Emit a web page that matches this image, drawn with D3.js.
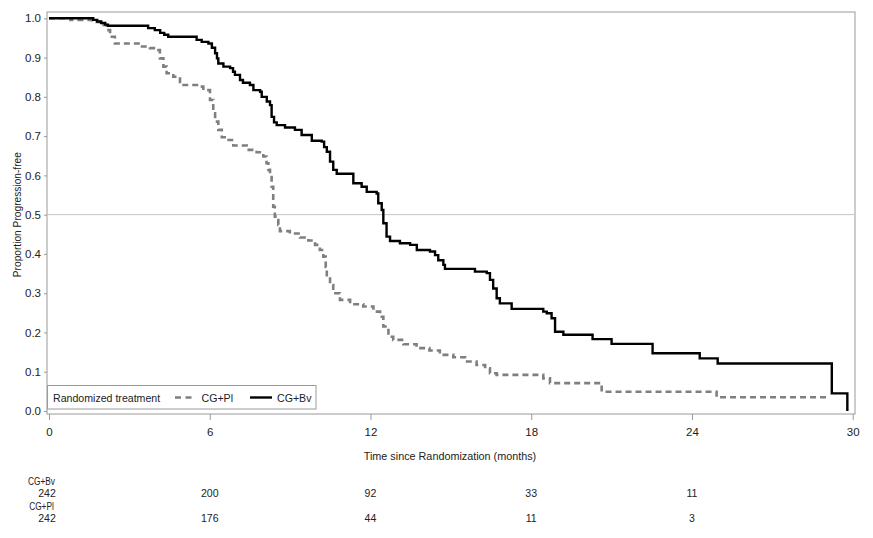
<!DOCTYPE html>
<html>
<head>
<meta charset="utf-8">
<script src="https://cdn.jsdelivr.net/npm/d3@7"></script>
<style>
  html, body { margin: 0; padding: 0; background: #fff; }
  svg { display: block; font-family: "Liberation Sans", Arial, sans-serif; }
</style>
</head>
<body>
<svg id="chart" width="873" height="538"></svg>
<script>
// ---- Data ----
const bvTime = [0, 1.65, 1.8, 1.95, 2.1, 2.2, 3.7, 3.95, 4.15, 4.3, 4.45, 5.51, 5.7, 5.95, 6.08, 6.2, 6.27, 6.32, 6.51, 6.76, 6.87, 6.94, 7.13, 7.24, 7.5, 7.63, 7.88, 7.94, 8.13, 8.25, 8.31, 8.4, 8.5, 8.81, 9.18, 9.43, 9.81, 10.18, 10.27, 10.37, 10.49, 10.61, 10.74, 11.36, 11.67, 11.86, 12.23, 12.29, 12.42, 12.48, 12.6, 12.73, 13.1, 13.48, 13.73, 14.22, 14.41, 14.53, 14.72, 14.78, 15.9, 16.34, 16.46, 16.58, 16.71, 16.83, 17.27, 18.45, 18.58, 18.76, 18.89, 19.2, 20.29, 21.0, 22.53, 24.29, 24.96, 29.22, 29.8];
const bvSurv = [1.0, 0.996, 0.992, 0.988, 0.984, 0.981, 0.975, 0.970, 0.963, 0.958, 0.953, 0.945, 0.940, 0.936, 0.925, 0.911, 0.898, 0.885, 0.877, 0.873, 0.864, 0.856, 0.843, 0.836, 0.830, 0.817, 0.813, 0.800, 0.788, 0.779, 0.749, 0.735, 0.728, 0.722, 0.716, 0.703, 0.688, 0.686, 0.672, 0.660, 0.635, 0.614, 0.604, 0.580, 0.571, 0.558, 0.554, 0.529, 0.512, 0.478, 0.444, 0.433, 0.427, 0.423, 0.410, 0.406, 0.397, 0.384, 0.372, 0.362, 0.355, 0.351, 0.334, 0.312, 0.287, 0.274, 0.260, 0.253, 0.249, 0.236, 0.202, 0.194, 0.183, 0.171, 0.147, 0.134, 0.121, 0.045, 0.0];

const plTime = [0, 0.8, 1.6, 1.9, 2.15, 2.28, 2.46, 3.4, 3.77, 4.02, 4.14, 4.27, 4.39, 4.64, 4.89, 5.64, 5.76, 6.01, 6.13, 6.2, 6.32, 6.45, 6.63, 6.88, 7.38, 7.75, 8.0, 8.12, 8.19, 8.25, 8.31, 8.37, 8.43, 8.5, 8.56, 8.62, 8.99, 9.37, 9.68, 9.93, 10.11, 10.24, 10.33, 10.37, 10.49, 10.61, 10.86, 11.24, 11.73, 12.11, 12.36, 12.48, 12.67, 12.85, 13.23, 13.72, 14.2, 14.59, 15.09, 15.53, 15.96, 16.28, 16.46, 16.71, 18.45, 18.7, 20.63, 24.92, 29.09];
const plSurv = [1.0, 0.996, 0.991, 0.983, 0.970, 0.953, 0.936, 0.928, 0.924, 0.919, 0.898, 0.877, 0.860, 0.851, 0.830, 0.826, 0.817, 0.792, 0.758, 0.737, 0.716, 0.697, 0.690, 0.676, 0.665, 0.659, 0.648, 0.631, 0.614, 0.605, 0.571, 0.520, 0.495, 0.486, 0.474, 0.458, 0.452, 0.442, 0.434, 0.423, 0.410, 0.393, 0.367, 0.342, 0.321, 0.300, 0.283, 0.272, 0.266, 0.253, 0.240, 0.215, 0.189, 0.181, 0.170, 0.160, 0.154, 0.143, 0.137, 0.126, 0.117, 0.109, 0.096, 0.092, 0.083, 0.071, 0.049, 0.035, 0.035];

const xTicks = [0, 6, 12, 18, 24, 30];
const yTicks = [0.0, 0.1, 0.2, 0.3, 0.4, 0.5, 0.6, 0.7, 0.8, 0.9, 1.0];
const riskTimes = [0, 6, 12, 18, 24];
const riskBv = [242, 200, 92, 33, 11];
const riskPl = [242, 176, 44, 11, 3];
const seriesNames = ["CG+Pl", "CG+Bv"];

// ---- Layout ----
const svg = d3.select("#chart");
const frame = { left: 47, right: 855, top: 12, bottom: 414 };
const x = d3.scaleLinear().domain([0, 30]).range([49, 852.7]);
const y = d3.scaleLinear().domain([0, 1]).range([411, 18.3]);

// frame
svg.append("rect")
  .attr("x", frame.left).attr("y", frame.top)
  .attr("width", frame.right - frame.left).attr("height", frame.bottom - frame.top)
  .attr("fill", "none").attr("stroke", "#9a9a9a").attr("stroke-width", 1);

// reference line at 0.5
svg.append("line")
  .attr("x1", frame.left).attr("x2", frame.right)
  .attr("y1", y(0.5)).attr("y2", y(0.5))
  .attr("stroke", "#c4c4c4").attr("stroke-width", 1);

// y axis
const yAxis = d3.axisLeft(y).tickValues(yTicks).tickFormat(d3.format(".1f")).tickSize(3).tickPadding(3);
const gy = svg.append("g").attr("transform", `translate(${frame.left},0)`).call(yAxis);
gy.select(".domain").remove();
gy.selectAll(".tick line").attr("stroke", "#9a9a9a");
gy.selectAll(".tick text").attr("fill", "#222").style("font-size", "11.5px").style("font-family", "Liberation Sans, Arial, sans-serif");

// x axis
const xAxis = d3.axisBottom(x).tickValues(xTicks).tickFormat(d3.format("d")).tickSize(6).tickPadding(8);
const gx = svg.append("g").attr("transform", `translate(0,${frame.bottom})`).call(xAxis);
gx.select(".domain").remove();
gx.selectAll(".tick line").attr("stroke", "#9a9a9a");
gx.selectAll(".tick text").attr("fill", "#222").style("font-size", "11.5px").style("font-family", "Liberation Sans, Arial, sans-serif");

// axis titles
svg.append("text")
  .attr("transform", `translate(21,${y(0.5)}) rotate(-90)`)
  .attr("text-anchor", "middle")
  .attr("fill", "#222").style("font-size", "10.2px")
  .text("Proportion Progression-free");
svg.append("text")
  .attr("x", 450).attr("y", 460)
  .attr("text-anchor", "middle")
  .attr("fill", "#222").style("font-size", "10.8px")
  .text("Time since Randomization (months)");

// curves
const line = d3.line().x(d => x(d[0])).y(d => y(d[1])).curve(d3.curveStepAfter);
const plData = plTime.map((t, i) => [t, plSurv[i]]);
const bvData = bvTime.map((t, i) => [t, bvSurv[i]]);

svg.append("path").datum(plData)
  .attr("d", line).attr("fill", "none")
  .attr("stroke", "#7f7f7f").attr("stroke-width", 2.6)
  .attr("stroke-dasharray", "6,4");
svg.append("path").datum(bvData)
  .attr("d", line).attr("fill", "none")
  .attr("stroke", "#000").attr("stroke-width", 2.4);

// legend
const lg = svg.append("g").style("font-size", "10.6px");
lg.append("rect")
  .attr("x", 47.5).attr("y", 385.5).attr("width", 268.5).attr("height", 23.5)
  .attr("fill", "#fff").attr("stroke", "#9a9a9a").attr("stroke-width", 1);
lg.append("text").attr("x", 53).attr("y", 401.5).attr("fill", "#222").text("Randomized treatment");
lg.append("line").attr("x1", 175).attr("x2", 192).attr("y1", 397.5).attr("y2", 397.5)
  .attr("stroke", "#7f7f7f").attr("stroke-width", 2.6).attr("stroke-dasharray", "6,4.5");
lg.append("text").attr("x", 201.5).attr("y", 401.5).attr("fill", "#222").text(seriesNames[0]);
lg.append("line").attr("x1", 250).attr("x2", 272).attr("y1", 397.5).attr("y2", 397.5)
  .attr("stroke", "#000").attr("stroke-width", 2.4);
lg.append("text").attr("x", 277).attr("y", 401.5).attr("fill", "#222").text(seriesNames[1]);

// risk table
const rt = svg.append("g").style("font-size", "11.5px").attr("fill", "#222");
function riskText(px, py, s, sx) {
  rt.append("g").attr("transform", `translate(${px},${py}) scale(${sx},1)`)
    .append("text").attr("text-anchor", "middle").text(s);
}
riskText(41.5, 485, seriesNames[1], 0.72);
riskBv.forEach((d, i) => riskText(i === 0 ? 47 : x(riskTimes[i]), 497, d, 0.92));
riskText(41.5, 510, seriesNames[0], 0.72);
riskPl.forEach((d, i) => riskText(i === 0 ? 47 : x(riskTimes[i]), 521.5, d, 0.92));
</script>
</body>
</html>
